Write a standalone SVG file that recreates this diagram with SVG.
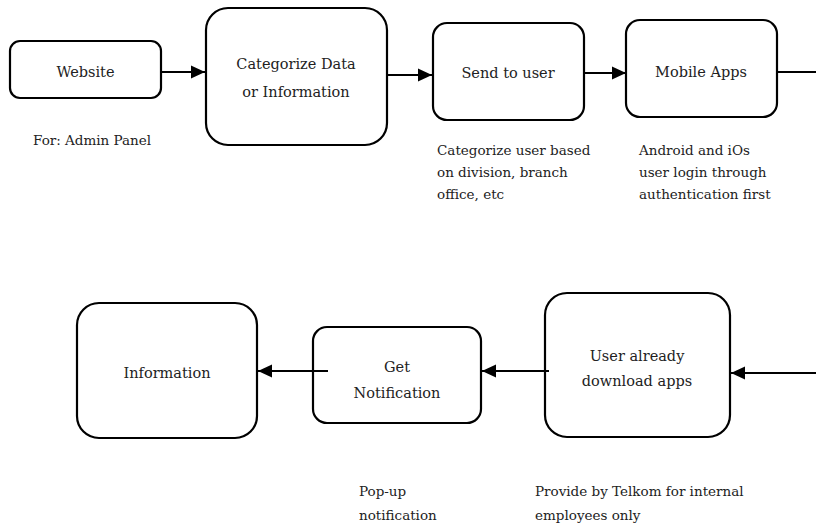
<svg xmlns="http://www.w3.org/2000/svg" width="816" height="524" viewBox="0 0 816 524">
<style>
.box{fill:#fff;stroke:#000;stroke-width:2.2}
.t{font-family:"DejaVu Serif","Liberation Serif",serif;font-size:14.5px;fill:#222;text-anchor:middle}
.n{font-family:"DejaVu Serif","Liberation Serif",serif;font-size:13.5px;fill:#222}
.c{stroke:#000;stroke-width:2.2;fill:none}
</style>
<defs>
<marker id="ah" markerWidth="14" markerHeight="14" refX="14" refY="7" orient="auto" markerUnits="userSpaceOnUse" viewBox="0 0 14 14">
<path d="M0,0.5 L14,7 L0,13.5 Z" fill="#000"/>
</marker>
</defs>
<rect width="816" height="524" fill="#fff"/>
<g id="website">
<rect class="box" x="10" y="41" width="151" height="57" rx="10"/>
<text class="t" x="85.5" y="77">Website</text>
</g>
<g id="categorize">
<rect class="box" x="206" y="8" width="181" height="137" rx="22"/>
<text class="t" x="296" y="69">Categorize Data</text>
<text class="t" x="296" y="97">or Information</text>
</g>
<g id="send">
<rect class="box" x="433" y="23" width="151" height="97" rx="14"/>
<text class="t" x="508" y="78">Send to user</text>
</g>
<g id="mobile">
<rect class="box" x="626" y="20" width="151" height="97" rx="14"/>
<text class="t" x="701" y="77">Mobile Apps</text>
</g>
<g id="user">
<rect class="box" x="545" y="293" width="185" height="144" rx="22"/>
<text class="t" x="637" y="361">User already</text>
<text class="t" x="637" y="386">download apps</text>
</g>
<g id="getnotif">
<rect class="box" x="313" y="327" width="168" height="96" rx="14"/>
<text class="t" x="397" y="372">Get</text>
<text class="t" x="397" y="398">Notification</text>
</g>
<g id="information">
<rect class="box" x="77" y="303" width="180" height="135" rx="22"/>
<text class="t" x="167" y="378">Information</text>
</g>
<g id="connectors">
<line class="c" x1="161" y1="72" x2="205" y2="72" marker-end="url(#ah)"/>
<line class="c" x1="387" y1="75" x2="432" y2="75" marker-end="url(#ah)"/>
<line class="c" x1="584" y1="73" x2="626" y2="73" marker-end="url(#ah)"/>
<line class="c" x1="777" y1="72" x2="816" y2="72"/>
<line class="c" x1="816" y1="373" x2="731" y2="373" marker-end="url(#ah)"/>
<line class="c" x1="549" y1="371" x2="482" y2="371" marker-end="url(#ah)"/>
<line class="c" x1="328" y1="371" x2="258" y2="371" marker-end="url(#ah)"/>
</g>
<g id="notes">
<text class="n" x="33" y="145">For: Admin Panel</text>
<text class="n" x="437" y="155">Categorize user based</text>
<text class="n" x="437" y="177">on division, branch</text>
<text class="n" x="437" y="199">office, etc</text>
<text class="n" x="639" y="155">Android and iOs</text>
<text class="n" x="639" y="177">user login through</text>
<text class="n" x="639" y="199">authentication first</text>
<text class="n" x="359" y="496">Pop-up</text>
<text class="n" x="359" y="520">notification</text>
<text class="n" x="535" y="496">Provide by Telkom for internal</text>
<text class="n" x="535" y="520">employees only</text>
</g>
</svg>
